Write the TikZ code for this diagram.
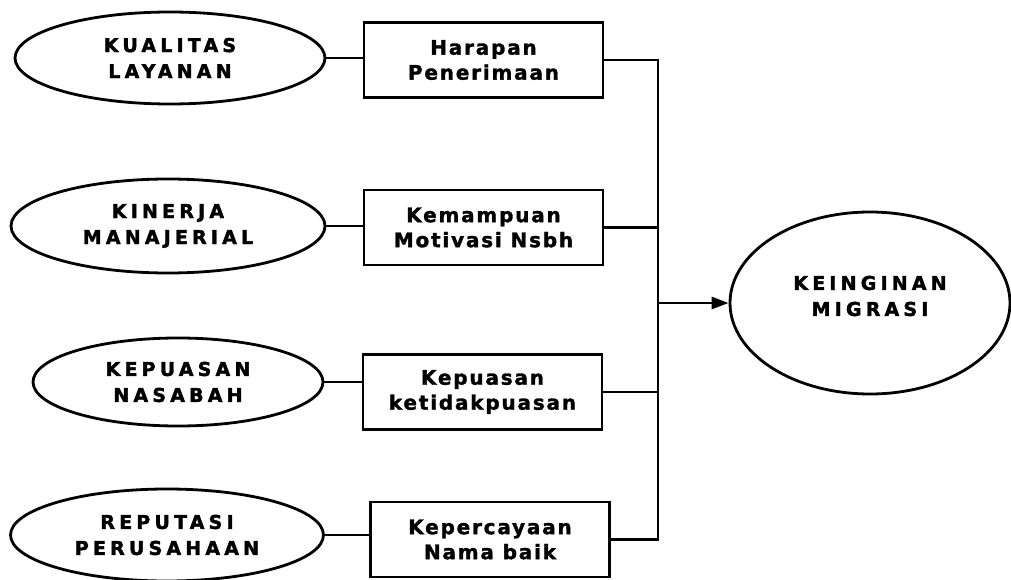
\documentclass[tikz,border=0pt]{standalone}
\usepackage{fontspec}
\setmainfont{DejaVu Sans}
\newfontfamily\capsfont[LetterSpace=22, BoldFeatures={FakeBold=2}]{DejaVu Sans}
\newfontfamily\boxfont[LetterSpace=9, BoldFeatures={FakeBold=1.5}]{DejaVu Sans}
\usetikzlibrary{shapes.geometric,arrows.meta}
\begin{document}
\begin{tikzpicture}[x=1pt,y=-1pt,
  line width=2.8pt,
  capsfnt/.style={font=\capsfont\bfseries\fontsize{19}{26}\selectfont},
  oval/.style={draw, ellipse, inner sep=0pt, align=center, capsfnt},
  factor/.style={draw, rectangle, inner sep=0pt, minimum width=239pt,
    minimum height=75pt, align=center,
    font=\boxfont\bfseries\fontsize{20}{25}\selectfont},
  link/.style={line width=2.6pt},
  arrowlink/.style={line width=2.8pt, -{Triangle[length=17pt,width=12pt]}}]
\useasboundingbox (0,0) rectangle (1011,580);

\node[oval, minimum width=310pt, minimum height=92pt] (e1) at (170,58) {KUALITAS\\LAYANAN};
\node[oval, minimum width=314pt, minimum height=94pt] (e2) at (168,226) {KINERJA\\MANAJERIAL};
\node[oval, minimum width=290pt, minimum height=88pt] (e3) at (178,382) {KEPUASAN\\NASABAH};
\node[oval, minimum width=313pt, minimum height=92pt] (e4) at (167,535) {REPUTASI\\PERUSAHAAN};

\node[factor] (r1) at (483.5,60) {Harapan\\Penerimaan};
\node[factor] (r2) at (483.5,227.5) {Kemampuan\\Motivasi Nsbh};
\node[factor] (r3) at (482.5,392) {Kepuasan\\ketidakpuasan};
\node[factor] (r4) at (490,539.5) {Kepercayaan\\Nama baik};

\node[oval, minimum width=280pt, minimum height=182pt,
  label={[capsfnt, align=center, yshift=7pt]center:KEINGINAN\\MIGRASI}] (goal) at (870,303) {};

\coordinate (bt) at (658,60);
\coordinate (bb) at (658,539.5);
\coordinate (bm) at (658,303);

\draw[link] (e1.east) -- (e1.east -| r1.west);
\draw[link] (e2.east) -- (e2.east -| r2.west);
\draw[link] (e3.east) -- (e3.east -| r3.west);
\draw[link] (e4.east) -- (e4.east -| r4.west);

\draw[link] (r1.east) -- (bt) -- (bb) -- (r4.east);
\draw[link] (r2.east) -- (r2.east -| bt);
\draw[link] (r3.east) -- (r3.east -| bt);
\draw[arrowlink] (bm) -- (goal.west);
\end{tikzpicture}
\end{document}
